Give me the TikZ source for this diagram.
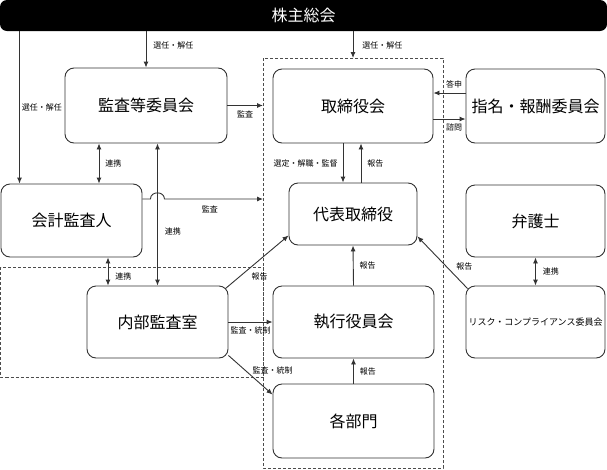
\documentclass[tikz,border=0pt]{standalone}
\usepackage{fontspec}
\setmainfont{Noto Sans CJK JP}
\usepackage{tikz}
\usetikzlibrary{positioning,arrows.meta}

\begin{document}
\begin{tikzpicture}
                    [x=1pt, y=-1pt,
                    box/.style={rectangle, rounded corners=9pt,
                        draw=black!80, line width=0.9pt, fill=white,
                        inner sep=0pt, font=\fontsize{16}{18}\selectfont},
                    bar/.style={rectangle, rounded corners=7pt,
                        fill=black, text=white, inner sep=0pt,
                        font=\fontsize{16}{18}\selectfont},
                    lbl/.style={inner sep=1pt, font=\fontsize{8}{9}\selectfont},
                    frame/.style={draw=black!70, line width=0.7pt,
                        dash pattern=on 3pt off 2pt},
                    con/.style={draw=black!80, line width=0.9pt},
                    >={Latex[length=6pt,width=5pt]}]

                    \useasboundingbox (0,0) rectangle (607,469);

                    % Rahmen
                    \coordinate (fTL) at (263,58);
                    \draw[frame] (fTL) rectangle (443,468);
                    \draw[frame] (0.5,267) rectangle (263,377);

                    \node[bar, minimum width=607pt, minimum height=31pt]
                        (meeting) at (303.5,15.5) {株主総会};
                    \node[box, minimum width=162pt, minimum height=75pt]
                        (audit) at (146,105.5) {監査等委員会};
                    \node[box, minimum width=141pt, minimum height=73pt]
                        (accountant) at (71.5,220.5) {会計監査人};
                    \node[box, minimum width=141pt, minimum height=72pt]
                        (internal) at (157.5,322) {内部監査室};
                    \node[box, minimum width=160pt, minimum height=74pt]
                        (board) at (353,106) {取締役会};
                    \node[box, minimum width=128pt, minimum height=62pt]
                        (ceo) at (353,214) {代表取締役};
                    \node[box, minimum width=161pt, minimum height=72pt]
                        (officers) at (353.5,322) {執行役員会};
                    \node[box, minimum width=161pt, minimum height=74pt]
                        (depts) at (353.5,421) {各部門};
                    \node[box, minimum width=139pt, minimum height=74pt]
                        (nomination) at (535.5,106) {指名・報酬委員会};
                    \node[box, minimum width=139pt, minimum height=72pt]
                        (lawyer) at (535.5,221) {弁護士};
                    \node[box, minimum width=139pt, minimum height=72pt,
                        font=\fontsize{9}{11}\selectfont]
                        (risk) at (535.5,322) {リスク・コンプライアンス委員会};

                    % Hilfspunkte
                    \coordinate (accIn) at ([xshift=-52pt]accountant.north);
                    \coordinate (accOut) at ([yshift=21.5pt]accountant.east);
                    \coordinate (auditLink) at ([xshift=27.5pt]accountant.north);
                    \coordinate (intLink) at ([xshift=36.5pt]accountant.south);
                    \coordinate (bDown) at ([xshift=-10pt]board.south);
                    \coordinate (bUp) at ([xshift=8pt]board.south);
                    \coordinate (nomIn) at ([yshift=13pt]nomination.west);
                    \coordinate (nomOut) at ([yshift=-13pt]board.east);

                    \draw[con, ->] (meeting.south -| audit.north)
                        -- node[lbl, right=6pt, pos=.4] {選任・解任} (audit.north);
                    \draw[con, ->] (accIn |- meeting.south)
                        -- node[lbl, right=1pt] {選任・解任} (accIn);
                    \draw[con, ->] (meeting.south -| board.north)
                        -- node[lbl, right=8pt, pos=.52] {選任・解任} (fTL -| board.north);

                    \draw[con, ->] (audit.east)
                        -- node[lbl, below=4pt] {監査} (audit.east -| fTL);
                    \draw[con, ->] (accOut) -- ++(8,0)
                        to[out=90, in=90, looseness=1.5] ++(14,0)
                        -- node[lbl, below=5pt, pos=.46] {監査} (accOut -| fTL);

                    \draw[con, <->] (audit.south -| auditLink)
                        -- node[lbl, right=5pt] {連携} (auditLink);
                    \draw[con, <->] (internal.north)
                        -- node[lbl, right=6pt, pos=.38] {連携} (internal.north |- audit.south);
                    \draw[con, <->] (intLink)
                        -- node[lbl, right=6pt, pos=.66] {連携} (intLink |- internal.north);

                    \draw[con, ->] ([shift={(-3pt,-3pt)}]internal.north east)
                        -- node[lbl, below=11pt, pos=.54] {報告} ([yshift=10pt]ceo.south west);
                    \draw[con, ->] (internal.east)
                        -- node[lbl, below=3pt] {監査・統制} (officers.west);
                    \draw[con, ->] ([yshift=3pt]internal.south east)
                        -- node[lbl, anchor=west, pos=.45, xshift=3pt, yshift=3pt] {監査・統制}
                        ([yshift=-11pt]depts.north west);

                    \draw[con, ->] (bDown)
                        -- node[lbl, left=4pt] {選定・解職・監督} (bDown |- ceo.north);
                    \draw[con, ->] (ceo.north -| bUp)
                        -- node[lbl, right=5pt] {報告} (bUp);
                    \draw[con, ->] (officers.north)
                        -- node[lbl, right=5pt] {報告} (ceo.south);
                    \draw[con, ->] (depts.north)
                        -- node[lbl, right=5pt] {報告} (officers.south);
                    \draw[con, ->] ([shift={(2pt,-3pt)}]risk.north west)
                        -- node[lbl, right=9pt, pos=.43] {報告} ([yshift=9pt]ceo.south east);

                    \draw[con, ->] (nomIn)
                        -- node[lbl, above=3pt, pos=.36] {答申} (nomIn -| board.east);
                    \draw[con, ->] (nomOut)
                        -- node[lbl, below=3pt, pos=.64] {諮問} (nomOut -| nomination.west);
                    \draw[con, <->] (lawyer.south)
                        -- node[lbl, right=6pt] {連携} (risk.north);
                \end{tikzpicture}
\end{document}
